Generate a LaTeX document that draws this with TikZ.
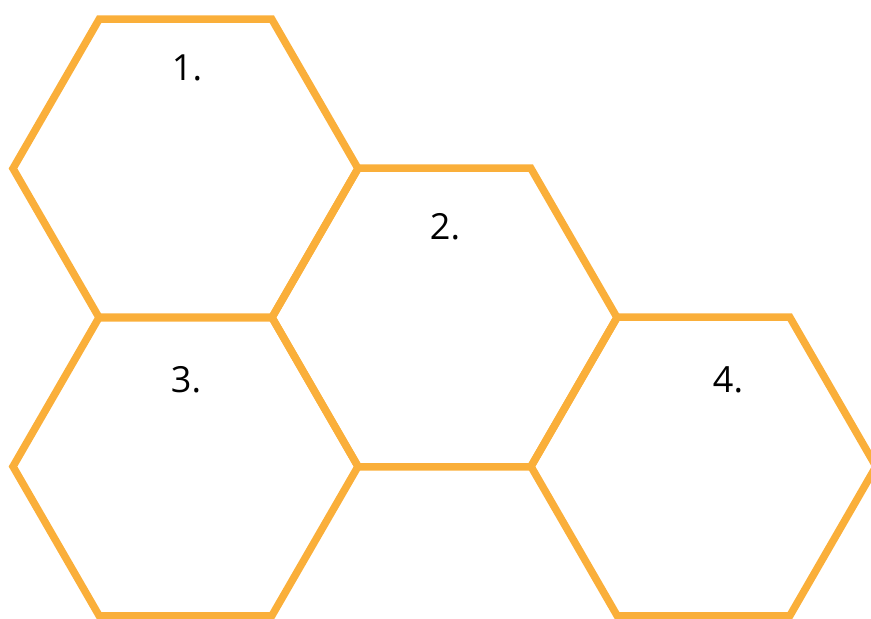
\documentclass[tikz,border=0pt]{standalone}
\usepackage{fontspec}
\setmainfont{Open Sans}
\usetikzlibrary{calc}
\definecolor{honey}{RGB}{250,175,58}
\tikzset{
  hexline/.style={draw=honey, line width=7.5pt, line join=miter},
  lbl/.style={inner sep=0pt, anchor=base, font=\fontsize{36}{40}\selectfont, text=black}
}
\newcommand{\hexat}[3]{% name, x, y (pixel coords from top)
  \coordinate (#1) at (#2,619-#3);
  \draw[hexline] ($(#1)+(172.5,0)$) -- ($(#1)+(86.25,149.4)$) -- ($(#1)+(-86.25,149.4)$) -- ($(#1)+(-172.5,0)$) -- ($(#1)+(-86.25,-149.4)$) -- ($(#1)+(86.25,-149.4)$) -- cycle;
}
\begin{document}
\begin{tikzpicture}[x=1pt,y=1pt]
\useasboundingbox (0,0) rectangle (871,619);
\clip (0,0) rectangle (871,619);
\hexat{h1}{185.5}{168.5}
\hexat{h2}{444.5}{317.5}
\hexat{h3}{185.5}{466.5}
\hexat{h4}{703.5}{466.5}
\node[lbl] (t1) at (187,619-81) {1.};
\node[lbl] (t2) at (445,619-240) {2.};
\node[lbl] (t3) at (186,619-393) {3.};
\node[lbl] (t4) at (728,619-393) {4.};
\end{tikzpicture}
\end{document}
